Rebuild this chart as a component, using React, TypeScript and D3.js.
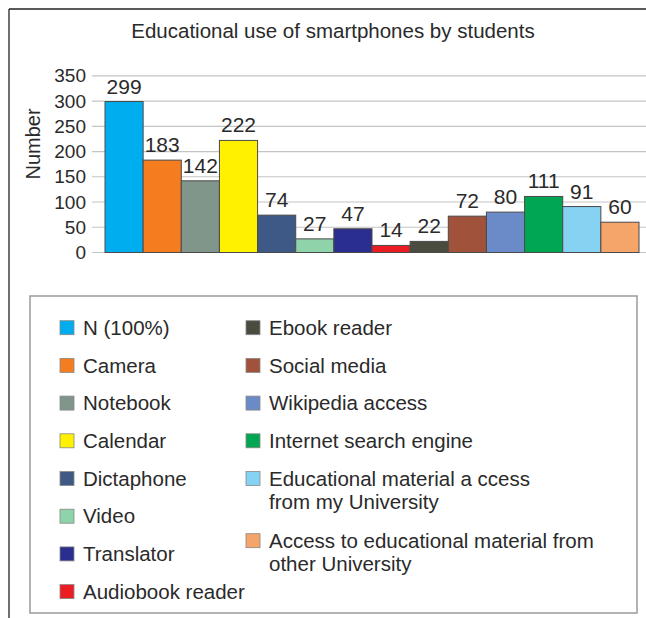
import React from "react";
import * as d3 from "d3";

const categories: string[] = [
  "N (100%)",
  "Camera",
  "Notebook",
  "Calendar",
  "Dictaphone",
  "Video",
  "Translator",
  "Audiobook reader",
  "Ebook reader",
  "Social media",
  "Wikipedia access",
  "Internet search engine",
  "Educational material a ccess\nfrom my University",
  "Access to educational material from\nother University",
];

const values: number[] = [299, 183, 142, 222, 74, 27, 47, 14, 22, 72, 80, 111, 91, 60];

const colors: string[] = [
  "#00aeef",
  "#f47d20",
  "#80968b",
  "#fff100",
  "#3f5986",
  "#8fd3ab",
  "#2a2e8e",
  "#ec1c24",
  "#4a4c40",
  "#a0523b",
  "#6b8ac8",
  "#00a651",
  "#86d2f3",
  "#f5a46a",
];

const yTicks: number[] = [0, 50, 100, 150, 200, 250, 300, 350];

const FONT = "'Liberation Sans', Arial, Helvetica, sans-serif";

export default function App() {
  const W = 646;
  const H = 618;
  const x = d3
    .scaleBand<number>()
    .domain(d3.range(values.length))
    .range([105, 639])
    .padding(0);
  const y = d3.scaleLinear().domain([0, 350]).range([252.5, 75.8]);

  const col1 = categories.slice(0, 8);
  const col2 = categories.slice(8);
  const rowStep = 37.7;
  const lineH = 23.5;
  const legendTop = 327.7;

  let acc = legendTop;
  const col2Y: number[] = col2.map((c) => {
    const yy = acc;
    acc += rowStep + (c.split("\n").length - 1) * (lineH + 1);
    return yy;
  });

  return (
    <svg
      width={W}
      height={H}
      style={{ position: "absolute", left: 0, top: 0, background: "#fff" }}
      fontFamily={FONT}
    >
      <rect x={0} y={0} width={W} height={H} fill="#fff" />
      {/* outer frame */}
      <line x1={9} y1={9} x2={W} y2={9} stroke="#222" strokeWidth={1.3} />
      <line x1={9} y1={9} x2={9} y2={H} stroke="#222" strokeWidth={1.3} />

      <text x={333} y={38} textAnchor="middle" fontSize={20.5} fill="#2a2a2a">
        Educational use of smartphones by students
      </text>

      {/* gridlines */}
      {yTicks.map((t) => (
        <line
          key={"g" + t}
          x1={92}
          x2={W}
          y1={y(t)}
          y2={y(t)}
          stroke="#c4c4c4"
          strokeWidth={1.2}
        />
      ))}
      {yTicks.map((t) => (
        <text
          key={"t" + t}
          x={86}
          y={y(t)}
          dy="0.35em"
          textAnchor="end"
          fontSize={19}
          fill="#2a2a2a"
        >
          {t}
        </text>
      ))}
      <text
        transform={`translate(33,144) rotate(-90)`}
        textAnchor="middle"
        dy="0.35em"
        fontSize={20}
        fill="#2a2a2a"
      >
        Number
      </text>

      {/* bars */}
      {values.map((v, i) => (
        <rect
          key={"b" + i}
          x={x(i)!}
          y={y(v)}
          width={x.bandwidth()}
          height={y(0) - y(v)}
          fill={colors[i]}
          stroke="#4a4a4a"
          strokeWidth={1}
        />
      ))}
      {values.map((v, i) => (
        <text
          key={"l" + i}
          x={x(i)! + x.bandwidth() / 2}
          y={y(v) - 8}
          textAnchor="middle"
          fontSize={21}
          fill="#2a2a2a"
        >
          {v}
        </text>
      ))}

      {/* legend */}
      <rect
        x={30}
        y={296}
        width={607}
        height={317}
        fill="none"
        stroke="#9a9a9a"
        strokeWidth={1.5}
      />
      {col1.map((c, i) => {
        const cy = legendTop + i * rowStep;
        return (
          <g key={"c1" + i}>
            <rect
              x={60}
              y={cy - 7}
              width={14}
              height={14}
              fill={colors[i]}
              stroke="#888"
              strokeWidth={0.8}
            />
            <text x={83} y={cy} dy="0.35em" fontSize={20.5} fill="#2a2a2a">
              {c}
            </text>
          </g>
        );
      })}
      {col2.map((c, j) => {
        const cy = col2Y[j];
        const lines = c.split("\n");
        return (
          <g key={"c2" + j}>
            <rect
              x={246}
              y={cy - 7}
              width={14}
              height={14}
              fill={colors[j + 8]}
              stroke="#888"
              strokeWidth={0.8}
            />
            {lines.map((ln, k) => (
              <text
                key={k}
                x={269}
                y={cy + k * lineH}
                dy="0.35em"
                fontSize={20.5}
                fill="#2a2a2a"
              >
                {ln}
              </text>
            ))}
          </g>
        );
      })}
    </svg>
  );
}
